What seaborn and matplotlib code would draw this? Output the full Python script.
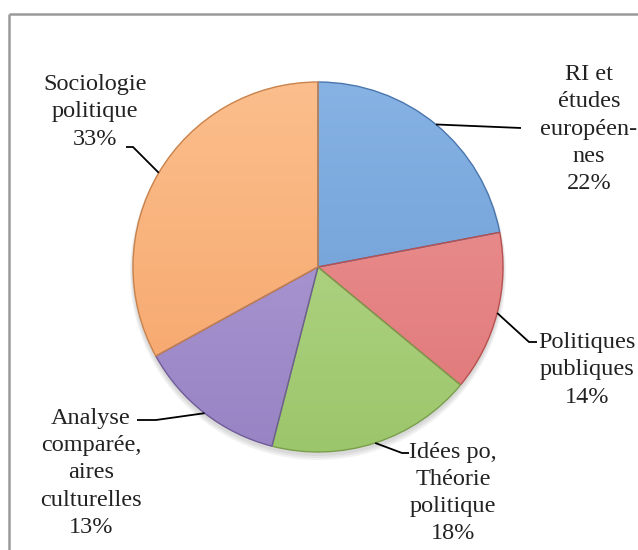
import numpy as np
import matplotlib
matplotlib.use("Agg")
import matplotlib.pyplot as plt
from matplotlib.patches import Circle
import seaborn as sns

# Share of publications per sub-field (percent)
categories = ["RI et\nétudes\neuropéen-\nnes", "Politiques\npubliques",
              "Idées po,\nThéorie\npolitique", "Analyse\ncomparée,\naires\nculturelles",
              "Sociologie\npolitique"]
values = [22, 14, 18, 13, 33]
labels = [f"{c}\n{v}%" for c, v in zip(categories, values)]

top_colors = ["#86b2e4", "#ec9696", "#bbdb92", "#b4a2d8", "#fbbe8c"]
bottom_colors = ["#6a9ad2", "#e07678", "#9cc66b", "#9883c4", "#f6a468"]
edge_colors = ["#4a76ad", "#b8504f", "#7a9e4c", "#6f5b99", "#c9824a"]

sns.set_theme(style="white")
plt.rcParams["font.family"] = ["Liberation Serif", "DejaVu Serif"]

W, H = 638, 550
fig = plt.figure(figsize=(W / 100, H / 100), dpi=100)
ax = fig.add_axes([0, 0, 1, 1])

cx, cy, r = 318, H - 267, 185

wedges, _ = ax.pie(values, startangle=90, counterclock=False, center=(cx, cy),
                   radius=r, colors=bottom_colors, frame=True,
                   wedgeprops=dict(edgecolor="none", linewidth=0))

# soft shadow beneath the pie
for k in range(3):
    ax.add_patch(Circle((cx, cy - 3 - k), r + 1 + k, color="black", alpha=0.05, lw=0, zorder=1))

# vertical light-to-dark gradient inside every slice
grad = np.linspace(0, 1, 256)[:, None]
for w, c0, c1, ce in zip(wedges, top_colors, bottom_colors, edge_colors):
    a = np.array(matplotlib.colors.to_rgb(c0))
    b = np.array(matplotlib.colors.to_rgb(c1))
    img = a[None, None, :] * (1 - grad[..., None]) + b[None, None, :] * grad[..., None]
    im = ax.imshow(img, extent=(cx - r, cx + r, cy - r, cy + r), origin="upper",
                   zorder=2, interpolation="bilinear")
    im.set_clip_path(w)
    w.set_zorder(3)
    w.set_facecolor("none")
    w.set_edgecolor(ce)
    w.set_linewidth(1.0)

# label blocks (center x, center y in image rows) and leader line elbows
label_pos = [(589, 129), (587, 370), (453, 493), (91, 473), (95, 112)]
elbows = [[(521, 128)], [(529, 342), (537, 342)], [(402, 453), (409, 453)],
          [(156, 420), (137, 420)], [(133, 147), (126, 147)]]

cum = np.cumsum([0] + values[:-1])
for lab, (lx, ly), elb, start, v in zip(labels, label_pos, elbows, cum, values):
    ang = np.deg2rad(90 - (start + v / 2) / 100 * 360)
    px, py = cx + r * np.cos(ang), cy + r * np.sin(ang)
    xs = [px] + [e[0] for e in elb]
    ys = [py] + [H - e[1] for e in elb]
    ax.plot(xs, ys, color="black", lw=1.3, zorder=4, solid_capstyle="butt")
    ax.text(lx, H - ly, lab, ha="center", va="center", fontsize=17.5,
            linespacing=1.38, color="#222222", zorder=5)

# chart area border (top and left edges)
ax.plot([9, W], [H - 14, H - 14], color="#9a9a9a", lw=1.8, zorder=6, solid_capstyle="butt")
ax.plot([9, 9], [H - 14, 0], color="#9a9a9a", lw=1.8, zorder=6, solid_capstyle="butt")

ax.set_xlim(0, W)
ax.set_ylim(0, H)
ax.set_aspect("equal")
ax.axis("off")

fig.savefig("out.png", dpi=100, facecolor="white")
